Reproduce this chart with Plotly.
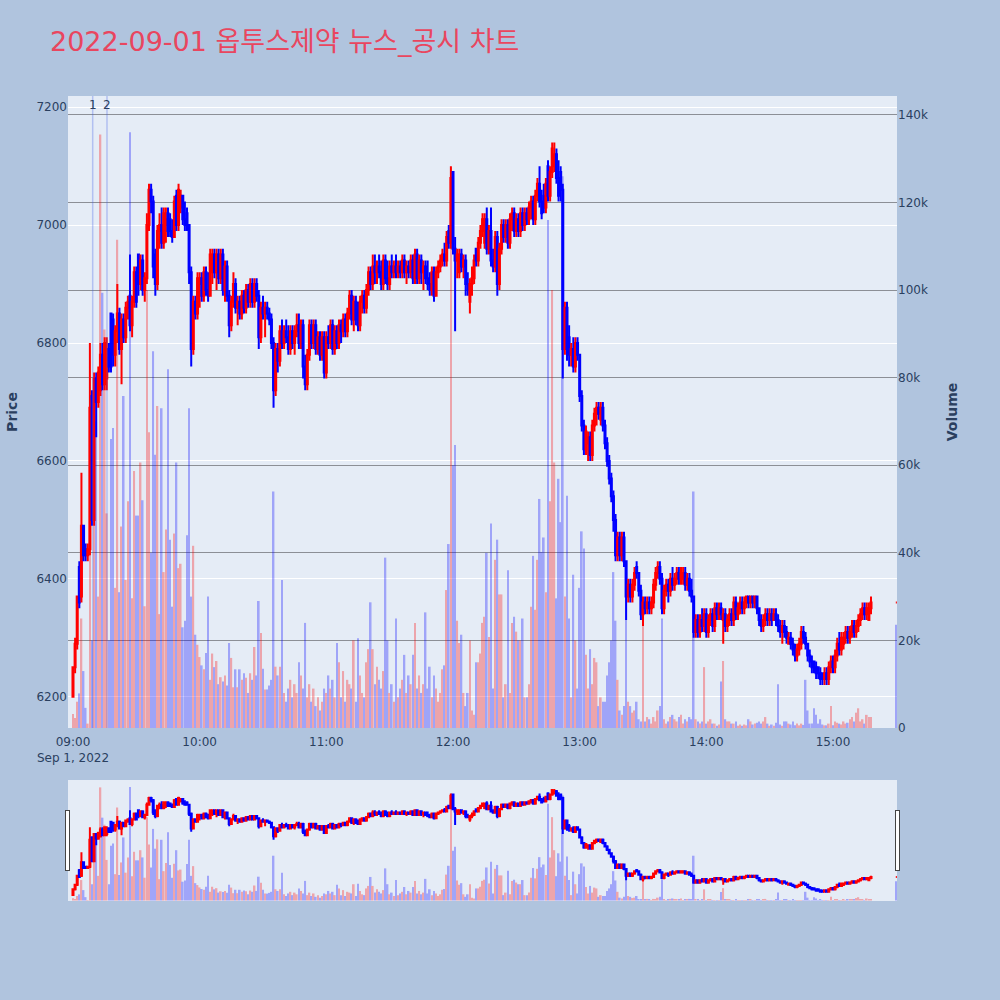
import pandas as pd
import plotly.graph_objects as go

# ---------------- data (1-minute bars, 2022-09-01) ----------------
times = list(pd.date_range("2022-09-01 09:00", "2022-09-01 15:18", freq="min")) + [pd.Timestamp("2022-09-01 15:30")]

opens = [
    6200,6250,6290,6420,6370,6490,6450,6440,6450,6710,
    6500,6740,6700,6720,6780,6730,6740,6790,6850,6840,
    6780,6820,6850,6790,6840,6810,6860,6880,6830,6870,
    6920,6950,6900,6940,6890,6910,7000,7060,7040,6950,
    6900,6990,7000,6970,7000,7020,7010,6990,6980,7050,
    7000,7030,7050,7010,7020,7000,6920,6790,6870,6850,
    6900,6910,6880,6920,6890,6880,6920,6950,6920,6950,
    6910,6950,6890,6930,6880,6830,6870,6900,6860,6870,
    6850,6880,6860,6890,6870,6900,6870,6900,6880,6810,
    6860,6850,6860,6850,6840,6800,6720,6790,6770,6820,
    6800,6820,6810,6790,6820,6800,6820,6830,6800,6830,
    6760,6730,6780,6830,6800,6830,6790,6810,6780,6810,
    6750,6810,6800,6830,6790,6820,6800,6830,6820,6840,
    6820,6850,6880,6840,6870,6840,6830,6870,6880,6860,
    6890,6920,6900,6930,6920,6930,6920,6900,6940,6910,
    6900,6930,6920,6930,6920,6930,6920,6940,6920,6930,
    6920,6940,6910,6950,6910,6940,6920,6930,6910,6900,
    6890,6920,6880,6920,6930,6940,6950,6940,6990,6970,
    7090,6960,6940,6920,6950,6930,6940,6900,6870,6900,
    6910,6960,6940,6970,6990,6970,7010,6960,6990,6940,
    6930,6980,6900,6960,7000,6980,7000,6970,7010,7020,
    6990,7010,6990,7020,7000,7020,7010,7030,7040,7010,
    7050,7070,7040,7050,7030,7100,7050,7090,7100,7120,
    7080,7090,7060,6790,6860,6810,6780,6790,6760,6800,
    6780,6710,6660,6620,6630,6640,6610,6660,6680,6690,
    6670,6690,6660,6630,6600,6570,6540,6500,6440,6470,
    6440,6470,6430,6370,6390,6370,6390,6420,6410,6380,
    6340,6360,6350,6360,6350,6360,6390,6410,6420,6400,
    6350,6380,6390,6380,6400,6390,6400,6410,6400,6400,
    6410,6390,6400,6380,6370,6310,6330,6310,6330,6320,
    6340,6310,6330,6340,6320,6350,6340,6350,6330,6340,
    6320,6330,6340,6330,6360,6340,6350,6360,6350,6360,
    6370,6360,6370,6360,6370,6350,6330,6320,6330,6340,
    6330,6340,6330,6340,6330,6320,6310,6320,6310,6290,
    6300,6290,6280,6270,6280,6290,6310,6300,6290,6270,
    6260,6260,6250,6250,6240,6240,6230,6240,6230,6250,
    6260,6250,6270,6290,6280,6290,6300,6310,6300,6310,
    6320,6310,6320,6330,6340,6350,6340,6330,6350,
    6360,
]

highs = [
    6250,6300,6370,6430,6580,6490,6460,6460,6800,6720,
    6750,6750,6760,6800,6800,6810,6810,6800,6850,6850,
    6830,6900,6860,6850,6850,6870,6880,6950,6880,6930,
    6930,6950,6950,6950,6920,7020,7070,7070,7050,6960,
    7000,7020,7030,7030,7030,7030,7020,7010,7050,7060,
    7070,7060,7050,7040,7030,7000,6930,6880,6880,6920,
    6920,6920,6930,6930,6920,6960,6960,6960,6960,6960,
    6960,6960,6940,6940,6890,6880,6920,6910,6880,6880,
    6890,6890,6900,6900,6910,6910,6910,6910,6890,6870,
    6880,6870,6870,6860,6850,6810,6800,6800,6830,6840,
    6830,6840,6830,6830,6830,6830,6850,6850,6840,6840,
    6780,6790,6840,6840,6840,6840,6820,6820,6820,6820,
    6820,6830,6840,6840,6830,6830,6840,6840,6850,6850,
    6860,6890,6890,6880,6880,6870,6880,6890,6890,6900,
    6930,6930,6950,6950,6940,6950,6940,6950,6950,6940,
    6940,6950,6940,6950,6940,6940,6950,6950,6940,6940,
    6950,6950,6960,6960,6950,6950,6940,6940,6940,6920,
    6930,6930,6930,6940,6950,6960,6970,6990,7000,7100,
    7090,6980,6960,6960,6960,6950,6950,6920,6910,6930,
    6950,6960,6980,7000,7020,7020,7030,7000,7030,6960,
    6990,6990,6970,7010,7010,7010,7010,7020,7030,7030,
    7020,7020,7030,7030,7030,7030,7040,7050,7050,7060,
    7080,7100,7060,7070,7080,7110,7100,7140,7140,7130,
    7110,7100,7070,6870,6870,6830,6800,6810,6810,6810,
    6780,6720,6670,6660,6650,6650,6670,6690,6700,6700,
    6700,6700,6670,6640,6610,6580,6550,6510,6480,6480,
    6480,6480,6430,6400,6400,6400,6420,6430,6410,6390,
    6370,6370,6370,6370,6370,6400,6420,6430,6430,6410,
    6390,6400,6400,6410,6420,6410,6420,6420,6420,6420,
    6420,6410,6410,6400,6370,6340,6340,6340,6350,6350,
    6350,6340,6350,6350,6360,6360,6360,6360,6350,6350,
    6340,6350,6350,6370,6370,6360,6370,6370,6370,6370,
    6370,6370,6370,6370,6370,6350,6340,6340,6350,6350,
    6350,6350,6350,6350,6340,6330,6330,6330,6320,6310,
    6310,6300,6290,6290,6300,6320,6320,6310,6290,6280,
    6270,6260,6260,6250,6250,6240,6250,6250,6260,6270,
    6270,6280,6300,6310,6310,6310,6320,6320,6320,6330,
    6330,6330,6340,6350,6360,6360,6360,6360,6370,
    6360,
]

lows = [
    6200,6240,6280,6350,6360,6430,6430,6430,6440,6490,
    6490,6640,6690,6710,6720,6720,6720,6750,6750,6760,
    6760,6800,6780,6730,6800,6800,6840,6820,6810,6860,
    6860,6880,6890,6880,6870,6900,6990,7020,6910,6880,
    6890,6960,6960,6960,6970,6980,6980,6970,6980,6990,
    6990,7020,7000,6990,6990,6900,6760,6780,6840,6840,
    6860,6870,6870,6880,6870,6880,6900,6910,6890,6900,
    6900,6880,6870,6870,6810,6820,6860,6850,6830,6840,
    6840,6850,6850,6860,6860,6860,6860,6870,6790,6800,
    6840,6810,6840,6830,6790,6690,6710,6750,6760,6790,
    6790,6800,6780,6780,6790,6780,6810,6790,6790,6740,
    6720,6720,6770,6790,6790,6780,6780,6770,6770,6740,
    6740,6790,6790,6780,6780,6790,6790,6800,6810,6810,
    6810,6840,6830,6820,6830,6820,6820,6850,6850,6850,
    6880,6890,6890,6900,6900,6910,6890,6890,6900,6890,
    6890,6910,6910,6910,6910,6910,6910,6910,6900,6910,
    6910,6900,6900,6900,6900,6900,6890,6900,6890,6880,
    6880,6870,6880,6910,6920,6930,6930,6930,6960,6960,
    6950,6820,6910,6910,6920,6910,6880,6880,6850,6880,
    6900,6930,6930,6960,6980,6960,6950,6950,6930,6920,
    6920,6880,6890,6950,6970,6970,6960,6960,6990,6980,
    6980,6980,6980,6990,6990,7000,7000,7010,7000,7000,
    7040,7030,7010,7020,7020,7040,7040,7080,7090,7070,
    7040,7040,6740,6780,6770,6760,6760,6750,6750,6770,
    6700,6650,6610,6610,6600,6600,6600,6650,6660,6670,
    6660,6650,6620,6590,6560,6530,6480,6430,6430,6430,
    6430,6420,6330,6360,6360,6360,6380,6400,6370,6330,
    6320,6340,6340,6340,6340,6350,6380,6400,6390,6340,
    6340,6370,6360,6370,6380,6380,6390,6390,6390,6390,
    6380,6380,6370,6360,6300,6300,6300,6300,6310,6310,
    6300,6300,6320,6310,6310,6330,6330,6330,6290,6310,
    6310,6320,6320,6320,6330,6330,6340,6340,6340,6350,
    6350,6350,6350,6350,6340,6320,6310,6310,6320,6320,
    6320,6320,6330,6320,6310,6300,6290,6300,6290,6290,
    6280,6270,6260,6260,6270,6280,6290,6280,6260,6250,
    6240,6240,6230,6230,6220,6220,6220,6220,6220,6240,
    6240,6240,6260,6270,6270,6280,6290,6290,6290,6300,
    6300,6300,6310,6320,6330,6330,6330,6330,6340,
    6360,
]

closes = [
    6250,6290,6370,6360,6490,6440,6440,6450,6690,6500,
    6740,6700,6750,6780,6730,6800,6790,6760,6760,6780,
    6820,6850,6790,6840,6810,6860,6870,6830,6870,6920,
    6870,6900,6940,6890,6910,7000,7060,7040,6930,6900,
    6990,7000,6970,7020,7010,6990,6990,6980,7040,7000,
    7060,7050,7010,7000,7000,6920,6790,6870,6850,6910,
    6910,6880,6920,6890,6880,6950,6950,6920,6950,6910,
    6950,6890,6930,6880,6830,6870,6900,6860,6870,6850,
    6880,6860,6890,6870,6900,6870,6900,6880,6810,6860,
    6850,6860,6850,6840,6800,6720,6790,6770,6820,6800,
    6820,6810,6790,6820,6800,6820,6830,6800,6830,6760,
    6730,6780,6830,6800,6830,6790,6810,6780,6810,6750,
    6810,6800,6830,6790,6820,6800,6830,6820,6840,6820,
    6850,6880,6840,6870,6840,6830,6870,6880,6860,6890,
    6920,6900,6930,6920,6930,6920,6900,6940,6910,6900,
    6930,6920,6930,6920,6930,6920,6940,6920,6930,6920,
    6940,6910,6950,6910,6940,6920,6930,6910,6900,6890,
    6920,6880,6920,6930,6940,6950,6940,6980,6970,7080,
    6960,6940,6950,6950,6930,6940,6900,6890,6900,6910,
    6940,6940,6970,6990,7010,7010,6960,6990,6940,6930,
    6980,6900,6960,7000,6980,7000,6970,7010,7020,6990,
    7010,6990,7020,7000,7020,7010,7030,7040,7010,7050,
    7070,7040,7020,7030,7070,7050,7090,7130,7120,7080,
    7050,7060,6790,6860,6790,6780,6790,6760,6800,6780,
    6710,6660,6620,6650,6640,6610,6660,6680,6690,6680,
    6690,6660,6630,6600,6570,6540,6500,6440,6470,6440,
    6470,6430,6370,6390,6370,6390,6410,6410,6380,6340,
    6360,6350,6360,6350,6360,6390,6410,6420,6400,6350,
    6380,6390,6380,6400,6390,6400,6410,6400,6410,6410,
    6390,6400,6380,6370,6310,6330,6310,6330,6320,6340,
    6310,6330,6340,6320,6350,6340,6350,6340,6340,6320,
    6330,6340,6330,6360,6340,6350,6360,6350,6360,6370,
    6360,6370,6360,6370,6350,6330,6320,6330,6340,6330,
    6340,6330,6340,6330,6320,6310,6320,6310,6300,6300,
    6290,6280,6270,6280,6290,6310,6300,6290,6270,6260,
    6250,6250,6240,6240,6230,6230,6240,6230,6250,6260,
    6250,6270,6290,6280,6300,6300,6310,6300,6310,6320,
    6310,6320,6330,6340,6350,6340,6350,6350,6360,
    6360,
]

volumes = [
    3200,2300,6000,7900,25000,13000,4600,1000,75000,20000,
    65700,70000,30000,135500,99400,91000,49000,20000,66000,68500,
    32000,111500,31000,46000,75800,33800,51800,136000,29600,58700,
    48500,48500,60600,52000,27800,100000,67500,40000,86000,62400,
    73500,26000,73000,35600,45300,81900,43000,27700,44400,60600,
    36500,37500,23000,24500,44000,73000,30000,41600,21300,19000,
    16200,14300,13400,17100,30000,11000,17000,13900,15300,10000,
    11600,10600,12000,9700,19400,16000,9300,13400,9300,13400,
    11000,12500,11500,8000,12500,11000,18500,12000,29000,21700,
    13500,8800,8800,9700,11000,54000,14000,12000,14000,33800,
    8000,6000,9000,11000,7000,10000,8000,15000,12000,9000,
    24000,7000,10000,6000,9000,5000,7000,4000,6000,9000,
    8000,12000,9000,11000,7000,19400,15000,7000,13000,6000,
    11000,10000,9000,20000,6000,20500,12000,8000,7000,15000,
    18000,28700,18000,10000,14000,11000,9000,13000,38900,20000,
    8000,10000,6000,25000,7000,9000,11000,16700,8000,12000,
    10000,16700,24000,9000,12000,8000,10000,26400,9000,14000,
    7000,12000,9000,6000,8000,13400,14300,31500,42000,128000,
    60000,64600,24500,19400,21300,8000,5000,8000,20000,4000,
    3000,15000,15000,17000,24000,25400,40000,20800,46700,9000,
    38400,43000,30500,30500,7000,10000,36000,8000,24000,25400,
    22000,20000,20000,25000,7000,7000,10000,27700,39300,27000,
    38400,52300,40200,43500,31000,116000,51800,100000,60600,29600,
    56900,47000,126000,30000,53000,25000,7000,35000,20000,9000,
    32000,44900,41000,16700,9000,18000,10000,16000,15000,5000,
    7000,6000,6000,12000,15000,20000,35600,24500,11000,4000,
    3000,5000,32400,6000,5000,3500,4000,6000,2000,1500,
    23600,1500,2500,2000,1000,2500,1500,4000,5000,25000,
    2000,1000,1500,2500,3000,2000,1500,2500,3000,1000,
    2000,1500,2500,2000,54000,2000,1500,1000,1500,13900,
    1000,1500,2000,1000,1000,500,800,10600,15300,2000,
    1500,1500,1000,1000,1500,500,800,500,800,600,
    2000,1500,800,1000,1200,1500,1000,1500,2500,1000,
    500,800,500,1200,10000,800,500,1500,1500,1000,
    800,1500,600,1000,600,1000,700,11000,4000,1000,
    1000,4500,3000,1000,2000,800,600,600,1000,5000,
    600,1500,1200,1000,800,1500,1000,1200,2000,2500,
    1500,3500,4500,1500,2000,1000,3000,2500,2500,
    23600,
]

news_times = ["2022-09-01 09:09:20", "2022-09-01 09:16:06"]
news_labels = ["1", "2"]

title_text = "2022-09-01 옵투스제약 뉴스_공시 차트"

# ---------------- figure ----------------
vol_colors = ["red" if c > o else "blue" for o, c in zip(opens, closes)]

fig = go.Figure()
fig.add_trace(go.Candlestick(
    x=times, open=opens, high=highs, low=lows, close=closes,
    increasing=dict(line=dict(color="red", width=2), fillcolor="red"),
    decreasing=dict(line=dict(color="blue", width=2), fillcolor="blue"),
    name="Price", showlegend=False,
))
fig.add_trace(go.Bar(
    x=times, y=volumes, marker=dict(color=vol_colors, line=dict(width=0)),
    opacity=0.3, yaxis="y2", name="Volume", showlegend=False,
))

for t, lab in zip(news_times, news_labels):
    fig.add_shape(type="line", xref="x", yref="paper", x0=t, x1=t, y0=0, y1=1,
                  line=dict(color="rgba(60,90,230,0.3)", width=1.5))
    fig.add_annotation(x=t, y=1, xref="x", yref="paper", text=lab,
                       showarrow=False, font=dict(size=12, color="#2a3f5f"))

x_range = ["2022-09-01 08:57:38", "2022-09-01 15:30:19"]

fig.update_layout(
    width=1000, height=1000,
    paper_bgcolor="#B0C4DE", plot_bgcolor="#E5ECF6",
    font=dict(family="DejaVu Sans", size=12, color="#2a3f5f"),
    title=dict(text=title_text, x=0.05, xanchor="left", y=0.958, yanchor="middle",
               font=dict(family="DejaVu Sans, Noto Sans CJK KR", size=27, color="#E9465F")),
    margin=dict(l=68, r=103, t=96, b=100),
    showlegend=False,
    bargap=0.2,
    xaxis=dict(type="date", range=x_range, showgrid=False, ticklabelstandoff=5,
               rangeslider=dict(visible=True, range=x_range, bgcolor="#E5ECF6", thickness=0.15)),
    yaxis=dict(title=dict(text="<b>Price</b>", font=dict(size=14)), range=[6147, 7219],
               tick0=6200, dtick=200, gridcolor="white", zeroline=False),
    yaxis2=dict(title=dict(text="<b>Volume</b>", font=dict(size=14), standoff=20), overlaying="y", side="right",
                range=[0, 144300], dtick=20000, showgrid=True, gridcolor="#8c8f96", gridwidth=1,
                zeroline=False),
)

fig.write_html("out.html", config={"displayModeBar": False},
               post_script="document.body.style.margin='0px';")
